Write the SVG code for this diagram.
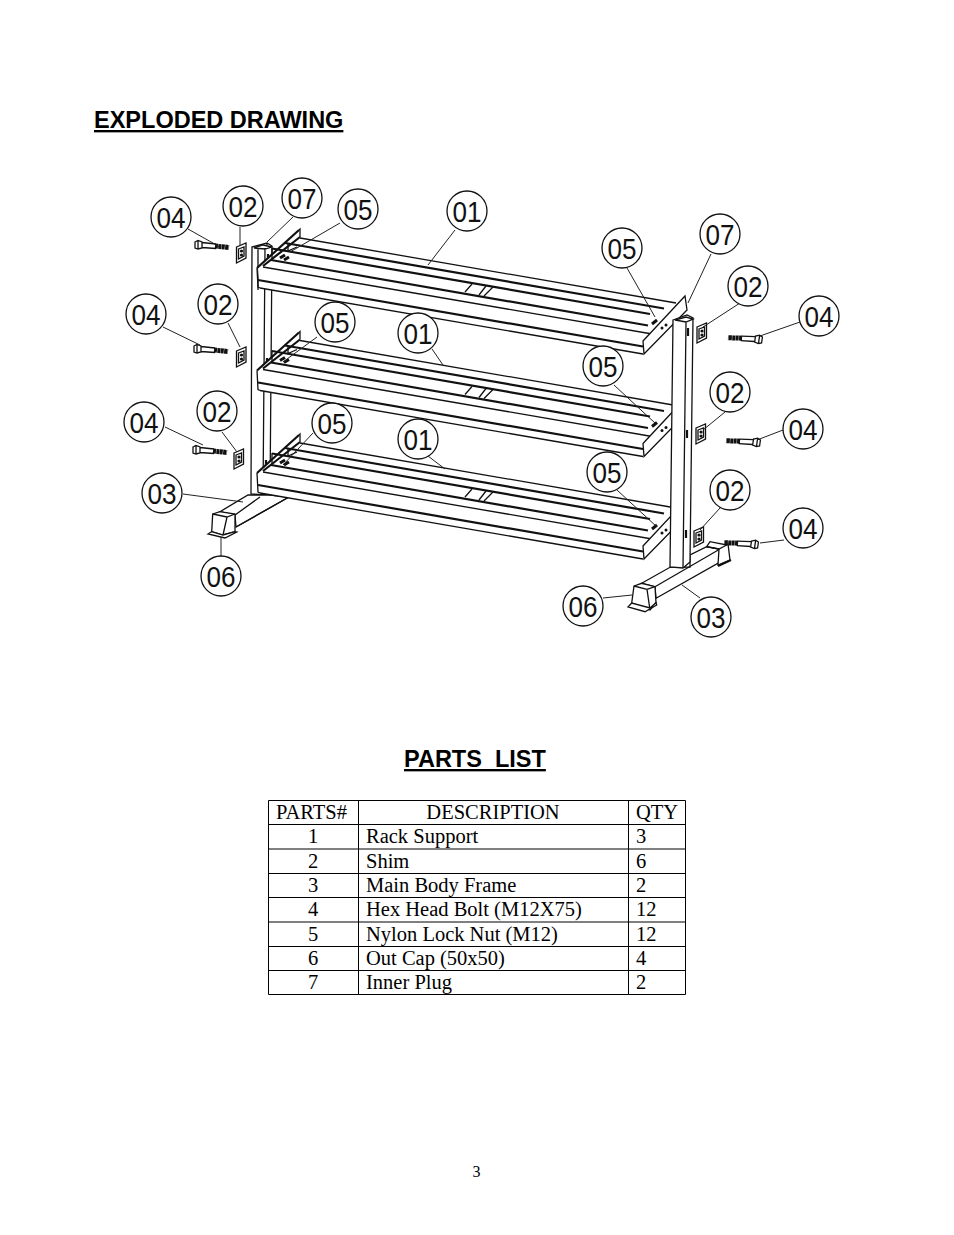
<svg xmlns="http://www.w3.org/2000/svg" width="954" height="1235" viewBox="0 0 954 1235">
<style>
.h{font-family:"Liberation Sans",Arial,sans-serif;font-weight:700;font-size:23.5px;text-decoration:underline;white-space:pre;fill:#000}
.t{font-family:"Liberation Serif","Times New Roman",serif;font-size:20.5px;fill:#000}
.m{text-anchor:middle}
.c{font-family:"Liberation Sans",Arial,sans-serif;font-size:29px;text-anchor:middle;fill:#111}
.ci{fill:#fff;stroke:#111;stroke-width:1.3}
.l{stroke:#222;stroke-width:1;fill:none}
.d{stroke:#111;stroke-width:1.3;fill:none}
.k{stroke:#111;stroke-width:2.2;fill:none}
.w{stroke:#111;stroke-width:1.3;fill:#fff}
.g{stroke:#000;stroke-width:1;fill:none}
</style>
<defs>
<g id="shelf">
<path d="M258 268 298 230 676 300 643 354 260 288Z" fill="#fff"/>
<path class="d" d="M300 238 676 303"/>
<path class="k" d="M285 243 664 308.500M272 248.500 650 314M271 260 648 325.500"/>
<path class="d" d="M263 267 655 334.500"/>
<path class="k" d="M258 280 643 346.500"/>
<path class="d" d="M260 288 643 354"/>
<path class="d" d="M465 292 472 284M479 295 486 286M484 296 493 287"/>
<path class="k" d="M257 268 299 230M263 266 300 237"/>
<path class="d" d="M299 230 300 229 300 237M257 268 258 287 260 288M272 260 272 248M288 244 288 251 297 247"/>
<path class="k" d="M280 258 285 255M284 260 289 257" style="stroke-width:3"/>
<path class="w" d="M643 341 685 296 687 310 644 354Z"/>
<circle cx="666" cy="325" r="1.500" fill="#111"/><circle cx="662" cy="328" r="1.500" fill="#111"/>
<path class="k" d="M652 324 657 320" style="stroke-width:3"/>
</g>
<g id="bolt">
<path class="d" d="M0 -3 3 -4.500 7 -3 7 3 3 4 0 3ZM3 -4.500 3 4M7 -2.500 21 -1M7 2.500 21 3.500"/>
<path d="M20 1 34 2.500" stroke="#111" stroke-width="5" stroke-dasharray="3 .4" fill="none"/>
</g>
<g id="shim">
<path class="w" d="M0 3 9.500 -1 9.500 14 0 19Z"/>
<path class="d" d="M2 5 7.500 3 7.500 12 2 15Z"/>
<circle cx="5" cy="7" r="1.600" fill="#111"/><circle cx="5" cy="11" r="1.600" fill="#111"/>
</g>
</defs>
<g id="headings">
<text class="h" x="94" y="128">EXPLODED DRAWING</text>
<text class="h" x="404" y="767">PARTS  LIST</text>
</g>
<g id="left-upright">
<path class="w" d="M252 247 267 243 272 246 270 495 251 494Z"/>
<path class="d" d="M265 248 263 495M254 248 263 245 272 247 265 249ZM267 243V247M258 248V290"/>
<path class="k" d="M268 254V262M267 358V366M266 460V468"/>
</g>
<g id="left-foot">
<path class="w" d="M220 511.700 248 495 270 495 289 497 236 527 235 515Z"/>
<path class="d" d="M235 515 260 497M236 527 289 497"/>
<path class="w" d="M212.700 514 220 511.700 235 514 235 531.700 223 535 211.700 531.700Z"/>
<path class="d" d="M212.700 514 227 517 235 514M227 517 223 535"/>
<path class="w" d="M208 534 211.700 531.700 223 535 235 531.700 236.700 532 225 538Z"/>
</g>
<use href="#shelf"/>
<use href="#shelf" y="102.500"/>
<use href="#shelf" y="205"/>
<g id="right-foot">
<path class="w" d="M641.700 583.300 670 567.300 690 567 690 555 706.700 546.700 720 549 720 562 656 598.300 655 586.700Z"/>
<path class="d" d="M655 586.700 720 549"/>
<path class="w" d="M706.700 546.700 710 541.700 726.700 545 728 544 730 560 718 565 719 549Z"/>
<path class="d" d="M706.700 546.700 719 549 726.700 545"/>
<path class="k" d="M718 566 731 560"/>
<path class="w" d="M634 586 641.700 583.300 655 586.700 656 602.700 650 610 631.700 603Z"/>
<path class="d" d="M634 586 647 589.300 655 586.700M647 589.300 650 610"/>
<path class="w" d="M628 607 631.700 603 650 608 656 602.700 656.700 605 645 611.700Z"/>
</g>
<g id="right-upright">
<path class="w" d="M673 320 687 315 693 318 690 562 683 568 670 567Z"/>
<path class="d" d="M686 322 683 568M675 320 686 317 693 319 686 322Z"/>
<path class="k" d="M688 328V336M687 430V438M686 530V538"/>
</g>
<g id="hardware">
<use href="#shim" x="236.500" y="244"/>
<use href="#shim" x="236.500" y="348"/>
<use href="#shim" x="234" y="450"/>
<use href="#shim" x="697" y="324"/>
<use href="#shim" x="696" y="425"/>
<use href="#shim" x="694" y="528"/>
<use href="#bolt" x="195" y="245"/>
<use href="#bolt" x="194" y="349"/>
<use href="#bolt" x="193" y="450"/>
<use href="#bolt" transform="translate(762 340) scale(-1 1) rotate(-8)"/>
<use href="#bolt" transform="translate(760 443) scale(-1 1) rotate(-8)"/>
<use href="#bolt" transform="translate(758 545) scale(-1 1) rotate(-8)"/>
</g>
<g id="connectors">
<path class="l" d="M188 229 220 247M240 227V245M293 217 267 242M340 223 290 252M163 327 200 345M228 323 240 347M317 337 283 362M165 427 203 445M222 432 237 452M313 433 283 465M183 494 243 502M221 557V537M455 230 428 265M432 349 443 365M428 456 445 469M627 268 655 317M711 254 688 303M740 303 703 327M800 322 760 336M614 385 655 423M725 412 703 430M783 430 757 440M617 490 657 527M720 508 700 530M784 540 760 543M603 598 632 595M700 598 682 585"/>
</g>
<g id="callout-04a"><circle class="ci" cx="171" cy="217" r="20"/><text class="c" x="171" y="227.500" textLength="29" lengthAdjust="spacingAndGlyphs">04</text></g>
<g id="callout-02a"><circle class="ci" cx="243" cy="206" r="20"/><text class="c" x="243" y="216.500" textLength="29" lengthAdjust="spacingAndGlyphs">02</text></g>
<g id="callout-07a"><circle class="ci" cx="302" cy="198" r="20"/><text class="c" x="302" y="208.500" textLength="29" lengthAdjust="spacingAndGlyphs">07</text></g>
<g id="callout-05a"><circle class="ci" cx="358" cy="209" r="20"/><text class="c" x="358" y="219.500" textLength="29" lengthAdjust="spacingAndGlyphs">05</text></g>
<g id="callout-01a"><circle class="ci" cx="467" cy="211" r="20"/><text class="c" x="467" y="221.500" textLength="29" lengthAdjust="spacingAndGlyphs">01</text></g>
<g id="callout-04b"><circle class="ci" cx="146" cy="314" r="20"/><text class="c" x="146" y="324.500" textLength="29" lengthAdjust="spacingAndGlyphs">04</text></g>
<g id="callout-02b"><circle class="ci" cx="218" cy="304" r="20"/><text class="c" x="218" y="314.500" textLength="29" lengthAdjust="spacingAndGlyphs">02</text></g>
<g id="callout-05b"><circle class="ci" cx="335" cy="322" r="20"/><text class="c" x="335" y="332.500" textLength="29" lengthAdjust="spacingAndGlyphs">05</text></g>
<g id="callout-01b"><circle class="ci" cx="418" cy="333" r="20"/><text class="c" x="418" y="343.500" textLength="29" lengthAdjust="spacingAndGlyphs">01</text></g>
<g id="callout-04c"><circle class="ci" cx="144" cy="422" r="20"/><text class="c" x="144" y="432.500" textLength="29" lengthAdjust="spacingAndGlyphs">04</text></g>
<g id="callout-02c"><circle class="ci" cx="217" cy="411" r="20"/><text class="c" x="217" y="421.500" textLength="29" lengthAdjust="spacingAndGlyphs">02</text></g>
<g id="callout-05c"><circle class="ci" cx="332" cy="423" r="20"/><text class="c" x="332" y="433.500" textLength="29" lengthAdjust="spacingAndGlyphs">05</text></g>
<g id="callout-01c"><circle class="ci" cx="418" cy="439" r="20"/><text class="c" x="418" y="449.500" textLength="29" lengthAdjust="spacingAndGlyphs">01</text></g>
<g id="callout-03a"><circle class="ci" cx="162" cy="493" r="20"/><text class="c" x="162" y="503.500" textLength="29" lengthAdjust="spacingAndGlyphs">03</text></g>
<g id="callout-06a"><circle class="ci" cx="221" cy="576" r="20"/><text class="c" x="221" y="586.500" textLength="29" lengthAdjust="spacingAndGlyphs">06</text></g>
<g id="callout-05d"><circle class="ci" cx="622" cy="248" r="20"/><text class="c" x="622" y="258.500" textLength="29" lengthAdjust="spacingAndGlyphs">05</text></g>
<g id="callout-07b"><circle class="ci" cx="720" cy="234" r="20"/><text class="c" x="720" y="244.500" textLength="29" lengthAdjust="spacingAndGlyphs">07</text></g>
<g id="callout-02d"><circle class="ci" cx="748" cy="286" r="20"/><text class="c" x="748" y="296.500" textLength="29" lengthAdjust="spacingAndGlyphs">02</text></g>
<g id="callout-04d"><circle class="ci" cx="819" cy="316" r="20"/><text class="c" x="819" y="326.500" textLength="29" lengthAdjust="spacingAndGlyphs">04</text></g>
<g id="callout-05e"><circle class="ci" cx="603" cy="366" r="20"/><text class="c" x="603" y="376.500" textLength="29" lengthAdjust="spacingAndGlyphs">05</text></g>
<g id="callout-02e"><circle class="ci" cx="730" cy="392" r="20"/><text class="c" x="730" y="402.500" textLength="29" lengthAdjust="spacingAndGlyphs">02</text></g>
<g id="callout-04e"><circle class="ci" cx="803" cy="429" r="20"/><text class="c" x="803" y="439.500" textLength="29" lengthAdjust="spacingAndGlyphs">04</text></g>
<g id="callout-05f"><circle class="ci" cx="607" cy="472" r="20"/><text class="c" x="607" y="482.500" textLength="29" lengthAdjust="spacingAndGlyphs">05</text></g>
<g id="callout-02f"><circle class="ci" cx="730" cy="490" r="20"/><text class="c" x="730" y="500.500" textLength="29" lengthAdjust="spacingAndGlyphs">02</text></g>
<g id="callout-04f"><circle class="ci" cx="803" cy="528" r="20"/><text class="c" x="803" y="538.500" textLength="29" lengthAdjust="spacingAndGlyphs">04</text></g>
<g id="callout-06b"><circle class="ci" cx="583" cy="606" r="20"/><text class="c" x="583" y="616.500" textLength="29" lengthAdjust="spacingAndGlyphs">06</text></g>
<g id="callout-03b"><circle class="ci" cx="711" cy="617" r="20"/><text class="c" x="711" y="627.500" textLength="29" lengthAdjust="spacingAndGlyphs">03</text></g>
<g id="parts-table">
<path class="g" d="M268.500 800.500H685.500V994.500H268.500ZM358.500 800.500V994.500M628.500 800.500V994.500M268.500 824.500H685.500M268.500 849H685.500M268.500 873.500H685.500M268.500 897.500H685.500M268.500 922H685.500M268.500 946.500H685.500M268.500 970.500H685.500"/>
<text class="t" x="276" y="819">PARTS#</text><text class="t m" x="493" y="819">DESCRIPTION</text><text class="t" x="636" y="819">QTY</text>
<text class="t m" x="313" y="843">1</text><text class="t" x="366" y="843">Rack Support</text><text class="t" x="636" y="843">3</text>
<text class="t m" x="313" y="868">2</text><text class="t" x="366" y="868">Shim</text><text class="t" x="636" y="868">6</text>
<text class="t m" x="313" y="892">3</text><text class="t" x="366" y="892">Main Body Frame</text><text class="t" x="636" y="892">2</text>
<text class="t m" x="313" y="916">4</text><text class="t" x="366" y="916">Hex Head Bolt (M12X75)</text><text class="t" x="636" y="916">12</text>
<text class="t m" x="313" y="941">5</text><text class="t" x="366" y="941">Nylon Lock Nut (M12)</text><text class="t" x="636" y="941">12</text>
<text class="t m" x="313" y="965">6</text><text class="t" x="366" y="965">Out Cap (50x50)</text><text class="t" x="636" y="965">4</text>
<text class="t m" x="313" y="989">7</text><text class="t" x="366" y="989">Inner Plug</text><text class="t" x="636" y="989">2</text>
</g>
<text class="t m" x="476.500" y="1177" style="font-size:16px">3</text>
</svg>
